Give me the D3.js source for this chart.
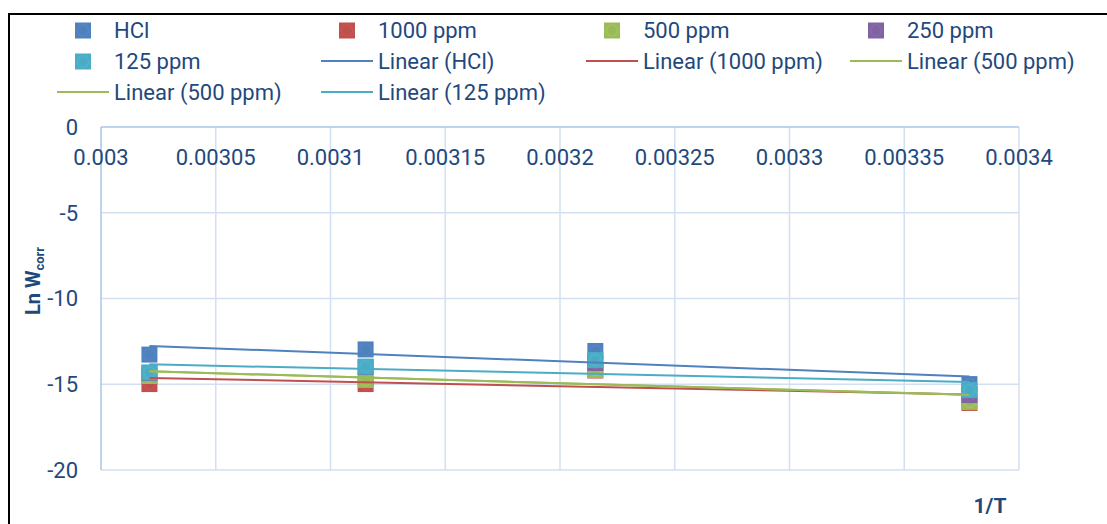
<!DOCTYPE html>
<html>
  <head>
    <meta charset="UTF-8">
    <title>Ln Wcorr vs 1/T</title>
    <script src="https://d3js.org/d3.v7.min.js"></script>
    <style>
      body { margin: 0; background: #fff; }
      text { font-family: Roboto, "Liberation Sans", Arial, sans-serif; fill: #1f497d; }
    </style>
  </head>
  <body>
    <svg width="1107" height="524"></svg>

    <script>

// 1/T values (K^-1)
const invT = [0.0030211, 0.0031153, 0.0032154, 0.0033784];

// Ln Wcorr for each solution
const hcl     = [-13.27, -12.97, -13.06, -14.99];
const ppm1000 = [-14.99, -14.99, -14.20, -16.09];
const ppm500  = [-14.52, -14.75, -14.17, -16.03];
const ppm250  = [-14.35, -14.00, -13.76, -15.63];
const ppm125  = [-14.31, -13.97, -13.59, -15.34];

const seriesNames = ["HCl", "1000 ppm", "500 ppm", "250 ppm", "125 ppm"];
const seriesValues = [hcl, ppm1000, ppm500, ppm250, ppm125];
const colors = ["#4f81bd", "#c0504d", "#9bbb59", "#8064a2", "#4bacc6"];

// trendlines as they appear in the legend (500 ppm is listed twice)
const trendNames = ["Linear (HCl)", "Linear (1000 ppm)", "Linear (500 ppm)", "Linear (500 ppm)", "Linear (125 ppm)"];
const trendSource = [0, 1, 2, 2, 4];

const xTicks = [0.003, 0.00305, 0.0031, 0.00315, 0.0032, 0.00325, 0.0033, 0.00335, 0.0034];
const xTickLabels = ["0.003", "0.00305", "0.0031", "0.00315", "0.0032", "0.00325", "0.0033", "0.00335", "0.0034"];
const yTicks = [0, -5, -10, -15, -20];

const svg = d3.select("svg");

// outer frame (cut off at right and bottom)
svg.append("rect")
  .attr("x", 9).attr("y", 14)
  .attr("width", 1130).attr("height", 530)
  .attr("fill", "none")
  .attr("stroke", "#000")
  .attr("stroke-width", 2);

const x = d3.scaleLinear().domain([0.003, 0.0034]).range([101, 1019]);
const y = d3.scaleLinear().domain([-20, 0]).range([470, 127]);

// gridlines
const grid = svg.append("g").attr("stroke", "#d3e0f1").attr("stroke-width", 1.5);
grid.selectAll("line.v")
  .data(xTicks.slice(1))
  .join("line")
  .attr("class", "v")
  .attr("x1", d => x(d)).attr("x2", d => x(d))
  .attr("y1", y(0)).attr("y2", y(-20));
grid.selectAll("line.h")
  .data(yTicks.slice(1))
  .join("line")
  .attr("class", "h")
  .attr("x1", x(0.003)).attr("x2", x(0.0034))
  .attr("y1", d => y(d)).attr("y2", d => y(d));

// axis lines
const axisLines = svg.append("g").attr("stroke", "#a9c4e8").attr("stroke-width", 1.5);
axisLines.append("line")
  .attr("x1", x(0.003)).attr("x2", x(0.0034))
  .attr("y1", y(0)).attr("y2", y(0));
axisLines.append("line")
  .attr("x1", x(0.003)).attr("x2", x(0.003))
  .attr("y1", y(0)).attr("y2", y(-20));

// tick labels
svg.append("g").selectAll("text")
  .data(xTicks)
  .join("text")
  .attr("x", d => x(d))
  .attr("y", 165)
  .attr("text-anchor", "middle")
  .attr("font-size", 22)
  .text((d, i) => xTickLabels[i]);

svg.append("g").selectAll("text")
  .data(yTicks)
  .join("text")
  .attr("x", 78)
  .attr("y", d => y(d))
  .attr("dy", "0.36em")
  .attr("text-anchor", "end")
  .attr("font-size", 22)
  .text(d => d);

// axis titles
const yt = svg.append("text")
  .attr("transform", "translate(40,281) rotate(-90)")
  .attr("text-anchor", "middle")
  .attr("font-size", 20)
  .attr("font-weight", "bold");
yt.append("tspan").text("Ln W");
yt.append("tspan").attr("font-size", 13).attr("dy", 4).text("corr");

svg.append("text")
  .attr("x", 990).attr("y", 513)
  .attr("text-anchor", "middle")
  .attr("font-size", 21)
  .attr("font-weight", "bold")
  .text("1/T");

// marker gradients (subtle ring like the Excel markers)
const defs = svg.append("defs");
colors.forEach((c, i) => {
  const g = defs.append("radialGradient").attr("id", "mk" + i);
  const base = d3.color(c);
  g.append("stop").attr("offset", "0%").attr("stop-color", base.darker(0.05));
  g.append("stop").attr("offset", "55%").attr("stop-color", base);
  g.append("stop").attr("offset", "70%").attr("stop-color", base.brighter(0.15));
  g.append("stop").attr("offset", "85%").attr("stop-color", base);
  g.append("stop").attr("offset", "100%").attr("stop-color", base);
});

// least squares trendline over the plotted points
function fit(vals) {
  const mx = d3.mean(invT), my = d3.mean(vals);
  const sxy = d3.sum(invT, (t, i) => (t - mx) * (vals[i] - my));
  const sxx = d3.sum(invT, t => (t - mx) * (t - mx));
  const b = sxy / sxx;
  return t => my + b * (t - mx);
}

const ms = 16;

// markers: series drawn in order, later ones on top
seriesValues.forEach((vals, si) => {
  svg.append("g").selectAll("rect")
    .data(vals)
    .join("rect")
    .attr("x", (d, i) => x(invT[i]) - ms / 2)
    .attr("y", d => y(d) - ms / 2)
    .attr("width", ms).attr("height", ms)
    .attr("fill", "url(#mk" + si + ")");
});

// trendlines
const tx = [invT[0], invT[invT.length - 1]];
trendSource.forEach((si, k) => {
  const f = fit(seriesValues[si]);
  svg.append("line")
    .attr("x1", x(tx[0])).attr("y1", y(f(tx[0])))
    .attr("x2", x(tx[1])).attr("y2", y(f(tx[1])))
    .attr("stroke", colors[si])
    .attr("stroke-width", 2);
});

// legend, 4 columns
const cols = [57, 321, 586, 850];
const rowY = [30, 61, 92];
const legendItems = [
  { type: "marker", s: 0, name: seriesNames[0] },
  { type: "marker", s: 1, name: seriesNames[1] },
  { type: "marker", s: 2, name: seriesNames[2] },
  { type: "marker", s: 3, name: seriesNames[3] },
  { type: "marker", s: 4, name: seriesNames[4] }
].concat(trendNames.map((n, k) => ({ type: "line", s: trendSource[k], name: n })));

const lg = svg.append("g").selectAll("g")
  .data(legendItems)
  .join("g")
  .attr("transform", (d, i) => `translate(${cols[i % 4]},${rowY[Math.floor(i / 4)]})`);

lg.filter(d => d.type === "marker").append("rect")
  .attr("x", 18).attr("y", -7.5)
  .attr("width", 16).attr("height", 16)
  .attr("fill", d => "url(#mk" + d.s + ")");

lg.filter(d => d.type === "line").append("line")
  .attr("x1", 0).attr("x2", 52)
  .attr("y1", 0).attr("y2", 0)
  .attr("stroke", d => colors[d.s])
  .attr("stroke-width", 2);

lg.append("text")
  .attr("x", 57)
  .attr("dy", "0.36em")
  .attr("font-size", 22)
  .text(d => d.name);

    </script>
  </body>
</html>
